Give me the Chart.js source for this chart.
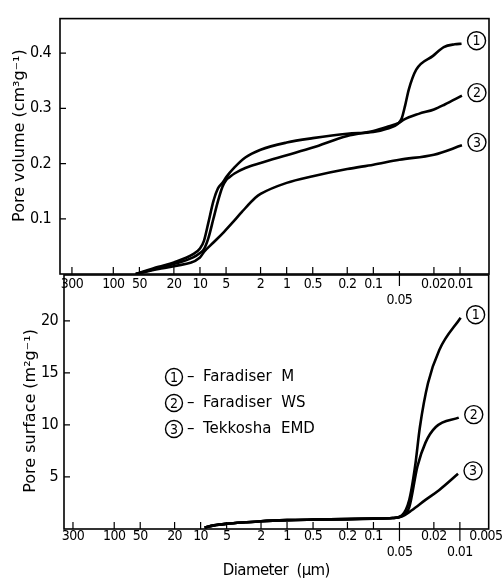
<!DOCTYPE html>
<html>
<head>
<meta charset="utf-8">
<script src="https://cdn.jsdelivr.net/npm/chart.js@4.4.1/dist/chart.umd.min.js"></script>
<style>
  body { margin: 0; background: #fff; }
  #wrap { position: relative; width: 504px; height: 579px; }
  canvas { position: absolute; left: 0; top: 0; }
</style>
</head>
<body>
<div id="wrap">
  <canvas id="volumeChart" width="504" height="579"></canvas>
  <canvas id="surfaceChart" width="504" height="579"></canvas>
</div>
<script>
const seriesNames = ['Faradiser M', 'Faradiser WS', 'Tekkosha EMD'];

// pore volume (cm3/g) against diameter (um)
const volDiamM = [55, 30, 20, 12, 10, 9, 8, 7, 6.2, 5.5, 5, 4, 3, 2, 1, 0.5, 0.2, 0.1, 0.07, 0.052, 0.047, 0.043, 0.039, 0.032, 0.0205, 0.0154, 0.0115, 0.0096];
const volM = [0, 0.013, 0.021, 0.036, 0.046, 0.06, 0.093, 0.132, 0.155, 0.165, 0.175, 0.193, 0.211, 0.225, 0.238, 0.246, 0.254, 0.257, 0.263, 0.272, 0.282, 0.305, 0.334, 0.37, 0.395, 0.411, 0.416, 0.417];
const volDiamWS = [55, 30, 20, 12, 10, 9, 8, 7, 6.2, 5.5, 5, 4.5, 4, 3, 2, 1, 0.5, 0.2, 0.1, 0.07, 0.05, 0.045, 0.03, 0.02, 0.015, 0.0095];
const volWS = [0, 0.011, 0.018, 0.03, 0.038, 0.045, 0.065, 0.1, 0.132, 0.158, 0.17, 0.176, 0.182, 0.192, 0.201, 0.215, 0.229, 0.25, 0.259, 0.266, 0.274, 0.279, 0.29, 0.298, 0.307, 0.323];
const volDiamEMD = [55, 30, 20, 10, 9, 7, 5.3, 4, 3.3, 2.3, 2, 1, 0.5, 0.2, 0.1, 0.05, 0.02, 0.0095];
const volEMD = [0, 0.009, 0.014, 0.03, 0.04, 0.057, 0.076, 0.097, 0.112, 0.138, 0.145, 0.165, 0.177, 0.19, 0.198, 0.207, 0.216, 0.233];

// pore surface (m2/g) against diameter (um)
const surfDiamM = [9, 7, 5, 3, 2, 1, 0.5, 0.2, 0.1, 0.06, 0.047, 0.0385, 0.033, 0.029, 0.0234, 0.0173, 0.0098];
const surfM = [0.15, 0.35, 0.5, 0.65, 0.75, 0.85, 0.9, 0.95, 1.0, 1.05, 1.3, 2.8, 6.0, 9.8, 14, 17.2, 20.3];
const surfDiamWS = [9, 7, 5, 3, 2, 1, 0.5, 0.2, 0.1, 0.06, 0.047, 0.0385, 0.031, 0.025, 0.019, 0.0103];
const surfWS = [0.15, 0.35, 0.5, 0.65, 0.75, 0.85, 0.9, 0.95, 1.0, 1.05, 1.25, 2.1, 6.0, 8.3, 9.8, 10.7];
const surfDiamEMD = [9, 7, 5, 3, 2, 1, 0.5, 0.2, 0.1, 0.06, 0.047, 0.036, 0.025, 0.0173, 0.0105];
const surfEMD = [0.15, 0.35, 0.5, 0.65, 0.75, 0.85, 0.9, 0.95, 1.0, 1.05, 1.2, 1.8, 2.8, 3.75, 5.3];

// axis ticks
const volTicks = [0.1, 0.2, 0.3, 0.4];
const surfTicks = [5, 10, 15, 20];
const diamTicksTop = [300, 100, 50, 20, 10, 5, 2, 1, 0.5, 0.2, 0.1, 0.05, 0.02, 0.01];
const diamTicksBottom = [300, 100, 50, 20, 10, 5, 2, 1, 0.5, 0.2, 0.1, 0.05, 0.02, 0.01, 0.005];
const lowRowTop = [0.05];
const lowRowBottom = [0.05, 0.01];

const tickFont = "'Liberation Sans Narrow', 'DejaVu Sans Condensed', sans-serif";
const textFont = "'DejaVu Sans', sans-serif";
Chart.defaults.color = '#000';

function toPoints(xs, ys) {
    return xs.map((x, i) => ({ x: x, y: ys[i] }));
}

function circled(ctx, n, cx, cy, r) {
    ctx.beginPath();
    ctx.arc(cx, cy, r, 0, Math.PI * 2);
    ctx.lineWidth = 1.4;
    ctx.stroke();
    ctx.font = '14px ' + tickFont;
    ctx.textAlign = 'center';
    ctx.textBaseline = 'middle';
    ctx.fillText(String(n), cx, cy + 1);
}

// frame, inward ticks, y title, curve numbers and legend
const decorations = {
    id: 'decorations',
    beforeDraw(chart) {
        // tighter tick lettering, like the original typeset labels
        chart.ctx.letterSpacing = '-0.6px';
    },
    afterDraw(chart, args, o) {
        const { ctx, chartArea: a } = chart;
        const x = chart.scales.x, y = chart.scales.y;
        ctx.save();
        ctx.letterSpacing = '0px';
        ctx.strokeStyle = '#000';
        ctx.fillStyle = '#000';
        ctx.lineWidth = 1.6;
        ctx.strokeRect(a.left, a.top, a.right - a.left, a.bottom - a.top);

        ctx.lineWidth = 1.2;
        ctx.beginPath();
        o.yTicks.forEach(v => {
            const py = y.getPixelForValue(v);
            ctx.moveTo(a.left, py);
            ctx.lineTo(a.left + 6, py);
        });
        o.xTicks.forEach(v => {
            const px = x.getPixelForValue(v);
            if (a.right - px < 6 || o.lowRow.includes(v) && !o.upOnLow) return;
            ctx.moveTo(px, a.bottom);
            ctx.lineTo(px, a.bottom - 7);
        });
        o.lowRow.forEach(v => {
            const px = x.getPixelForValue(v);
            ctx.moveTo(px, a.bottom - 3);
            ctx.lineTo(px, a.bottom + 12);
        });
        ctx.stroke();

        // rotated y-axis title
        ctx.save();
        ctx.translate(a.left - o.titleDx, a.top + o.titleDy);
        ctx.rotate(-Math.PI / 2);
        ctx.font = '16px ' + textFont;
        ctx.textAlign = 'center';
        ctx.textBaseline = 'middle';
        ctx.fillText(o.yTitle, 0, 0);
        ctx.restore();

        chart.data.datasets.forEach((ds, i) => {
            const pts = chart.getDatasetMeta(i).data;
            const last = pts[pts.length - 1];
            circled(ctx, i + 1, last.x + 15, last.y - 3, 9);
        });

        if (o.legend) {
            seriesNames.forEach((name, i) => {
                const cy = a.top + 102 + i * 26;
                const cx = a.left + 110;
                circled(ctx, i + 1, cx, cy, 8.5);
                ctx.font = '15px ' + textFont;
                ctx.textAlign = 'left';
                ctx.textBaseline = 'middle';
                ctx.fillText('\u2013', cx + 13, cy);
                ctx.fillText(name.replace(' ', '  '), cx + 29, cy);
            });
        }
        ctx.restore();
    }
};

function lineSets(pairs) {
    return pairs.map(p => ({
        label: p[0],
        data: toPoints(p[1], p[2]),
        borderColor: '#000',
        borderWidth: 2.6,
        pointRadius: 0,
        fill: false,
        cubicInterpolationMode: 'monotone'
    }));
}

function makeChart(id, c) {
    return new Chart(document.getElementById(id), {
        type: 'line',
        data: { datasets: lineSets(c.sets) },
        plugins: [decorations],
        options: {
            responsive: false,
            animation: false,
            devicePixelRatio: 1,
            layout: { padding: c.padding },
            plugins: {
                legend: { display: false },
                tooltip: { enabled: false },
                decorations: {
                    yTicks: c.yTicks, xTicks: c.xTicks, lowRow: c.lowRow, legend: c.legend, upOnLow: c.upOnLow,
                    yTitle: c.yTitle, titleDx: c.titleDx, titleDy: c.titleDy
                }
            },
            scales: {
                x: {
                    type: 'logarithmic',
                    reverse: true,
                    min: c.xMin,
                    max: c.xMax,
                    afterBuildTicks: s => { s.ticks = c.xTicks.map(v => ({ value: v })); },
                    afterFit: s => { s.height = c.xHeight; },
                    grid: { display: false, drawTicks: false },
                    border: { display: false },
                    ticks: {
                        autoSkip: false,
                        maxRotation: 0,
                        padding: c.xPad,
                        font: { family: tickFont, size: 14, lineHeight: 1.1 },
                        callback: v => c.lowRow.includes(v) ? ['', String(v)] : String(v)
                    },
                    title: c.xTitle ? {
                        display: true,
                        text: 'Diameter  (\u00b5m)',
                        font: { family: textFont, size: 15, lineHeight: 1.0 },
                        padding: { top: 0, bottom: 0 }
                    } : { display: false }
                },
                y: {
                    min: 0,
                    max: c.yMax,
                    afterBuildTicks: s => { s.ticks = c.yTicks.map(v => ({ value: v })); },
                    afterFit: s => { s.width = c.yWidth; },
                    grid: { display: false, drawTicks: false },
                    border: { display: false },
                    ticks: {
                        padding: c.yPad,
                        font: { family: tickFont, size: 16 },
                        callback: v => String(v)
                    }
                }
            }
        }
    });
}

// Pore volume panel
makeChart('volumeChart', {
    sets: [[seriesNames[0], volDiamM, volM], [seriesNames[1], volDiamWS, volWS], [seriesNames[2], volDiamEMD, volEMD]],
    padding: { top: 15, right: 15, left: 0, bottom: 0 },
    xMin: 0.00463, xMax: 412, xTicks: diamTicksTop, lowRow: lowRowTop, xHeight: 305, xPad: 3, xTitle: false,
    yMax: 0.4625, yTicks: volTicks, yWidth: 60, yPad: 9,
    yTitle: 'Pore volume (cm\u00b3g\u207b\u00b9)', titleDx: 40, titleDy: 117, legend: false, upOnLow: false
});

// Pore surface panel
makeChart('surfaceChart', {
    sets: [[seriesNames[0], surfDiamM, surfM], [seriesNames[1], surfDiamWS, surfWS], [seriesNames[2], surfDiamEMD, surfEMD]],
    padding: { top: 275, right: 13, left: 0, bottom: 0 },
    xMin: 0.00464, xMax: 381, xTicks: diamTicksBottom, lowRow: lowRowBottom, xHeight: 50, xPad: 0, xTitle: true,
    yMax: 24.4, yTicks: surfTicks, yWidth: 64, yPad: 6,
    yTitle: 'Pore surface (m\u00b2g\u207b\u00b9)', titleDx: 33, titleDy: 136, legend: true, upOnLow: true
});
</script>
</body>
</html>
